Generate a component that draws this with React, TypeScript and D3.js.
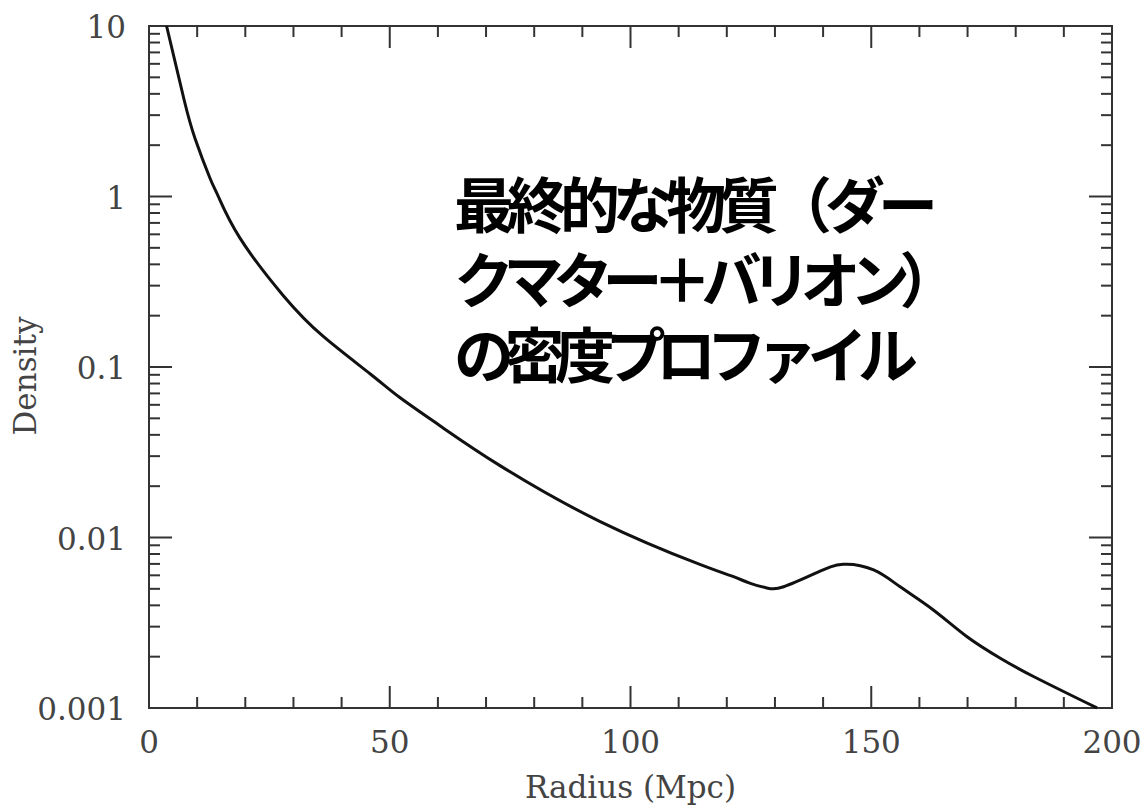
import React, { useEffect, useRef } from 'react';
import * as d3 from 'd3';

// radius (Mpc) and density
const radius = [3.65, 7.3, 9.56, 12.67, 14.4, 18.9, 27.9, 36.2, 45.9, 52.1, 60.5, 72.9, 93.7, 114.4, 121.4, 124.9, 128.3, 131.8, 138.7, 144.2, 150.5, 156, 162.9, 169.9, 176.8, 183.7, 196.9];
const density = [10, 3.68, 2.19, 1.28, 1.0, 0.57, 0.262, 0.151, 0.0913, 0.0662, 0.0451, 0.0264, 0.0124, 0.00695, 0.00589, 0.00538, 0.00506, 0.00514, 0.00622, 0.00696, 0.00645, 0.00514, 0.00376, 0.00262, 0.00196, 0.00153, 0.001];

const xTickValues = [0, 50, 100, 150, 200];
const xTickLabels = ['0', '50', '100', '150', '200'];
const yTickValues = [10, 1, 0.1, 0.01, 0.001];
const yTickLabels = ['10', '1', '0.1', '0.01', '0.001'];

const titleLines = ['最終的な物質（ダー', 'クマター＋バリオン）', 'の密度プロファイル'];
const titleSpacing = [-7, -10.5, -9.5];

const W = 1143, H = 807;

const App = () => {
  const ref = useRef<SVGSVGElement>(null);

  useEffect(() => {
    const svg = d3.select(ref.current);
    svg.selectAll('*').remove();

    const left = 149, right = 1112, top = 26, bottom = 708;
    const x = d3.scaleLinear().domain([0, 200]).range([left, right]);
    const y = d3.scaleLog().domain([0.001, 10]).range([bottom, top]);

    const axisColor = '#333';
    const serif = '"DejaVu Serif", serif';

    // frame
    svg.append('rect')
      .attr('x', left).attr('y', top)
      .attr('width', right - left).attr('height', bottom - top)
      .attr('fill', 'none').attr('stroke', axisColor).attr('stroke-width', 2);

    // y ticks (both sides, inward)
    const yt = y.ticks();
    const isDecade = (v: number) => Math.abs(Math.log10(v) - Math.round(Math.log10(v))) < 1e-6;
    yt.forEach(v => {
      const len = isDecade(v) ? 23 : 11;
      svg.append('line').attr('x1', left).attr('x2', left + len)
        .attr('y1', y(v)).attr('y2', y(v)).attr('stroke', axisColor).attr('stroke-width', 2);
      svg.append('line').attr('x1', right).attr('x2', right - len)
        .attr('y1', y(v)).attr('y2', y(v)).attr('stroke', axisColor).attr('stroke-width', 2);
    });

    // x ticks (top and bottom)
    d3.range(0, 201, 10).forEach(v => {
      const len = v % 50 === 0 ? 22 : 11;
      svg.append('line').attr('x1', x(v)).attr('x2', x(v))
        .attr('y1', bottom).attr('y2', bottom - len).attr('stroke', axisColor).attr('stroke-width', 2);
      svg.append('line').attr('x1', x(v)).attr('x2', x(v))
        .attr('y1', top).attr('y2', top + len).attr('stroke', axisColor).attr('stroke-width', 2);
    });

    // tick labels
    yTickValues.forEach((v, i) => {
      svg.append('text')
        .attr('x', 126).attr('y', y(v) + 12)
        .attr('text-anchor', 'end')
        .attr('font-family', serif).attr('font-size', 31)
        .attr('fill', '#444')
        .text(yTickLabels[i]);
    });
    xTickValues.forEach((v, i) => {
      svg.append('text')
        .attr('x', x(v)).attr('y', 753)
        .attr('text-anchor', 'middle')
        .attr('font-family', serif).attr('font-size', 31)
        .attr('fill', '#444')
        .text(xTickLabels[i]);
    });

    // axis titles
    svg.append('text')
      .attr('x', (left + right) / 2).attr('y', 798)
      .attr('text-anchor', 'middle')
      .attr('font-family', serif).attr('font-size', 31)
      .attr('fill', '#444')
      .text('Radius (Mpc)');
    svg.append('text')
      .attr('transform', `translate(36,${(top + bottom) / 2 + 9}) rotate(-90)`)
      .attr('text-anchor', 'middle')
      .attr('font-family', serif).attr('font-size', 31)
      .attr('fill', '#444')
      .text('Density');

    // the curve
    const pts: [number, number][] = radius.map((r, i) => [r, density[i]]);
    const line = d3.line<[number, number]>()
      .x(d => x(d[0]))
      .y(d => y(d[1]))
      .curve(d3.curveNatural);
    svg.append('path')
      .attr('d', line(pts))
      .attr('fill', 'none')
      .attr('stroke', '#111')
      .attr('stroke-width', 3);

    // japanese annotation, one text block
    const note = svg.append('text')
      .attr('font-family', '"Noto Sans CJK JP", sans-serif')
      .attr('font-weight', 700)
      .attr('font-size', 60)
      .attr('fill', '#000');
    titleLines.forEach((t, i) => {
      note.append('tspan')
        .attr('x', 454).attr('y', 228 + i * 75)
        .attr('letter-spacing', titleSpacing[i])
        .text(t);
    });
  }, []);

  return (
    <svg ref={ref} width={W} height={H}
      style={{ position: 'absolute', left: 0, top: 0, background: '#fff' }} />
  );
};

export default App;
